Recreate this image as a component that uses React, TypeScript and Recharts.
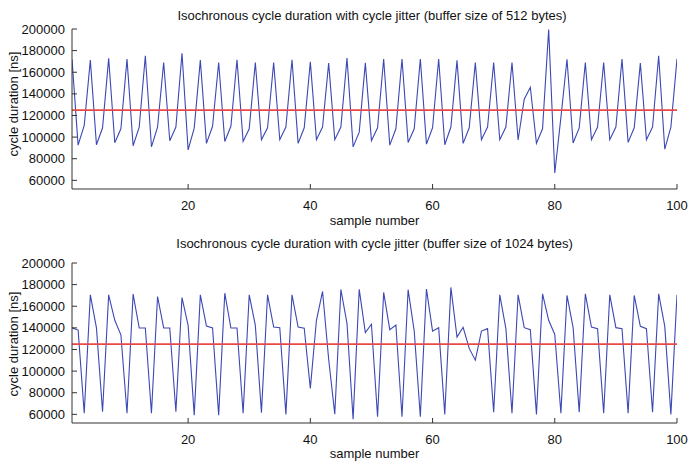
import { LineChart, Line, XAxis, YAxis, ReferenceLine } from 'recharts';

// cycle durations in ns, one value per sample (samples 1..100)
const jitter512 = [
  172000, 92600, 110800, 171200, 92900, 108600, 172800, 94800, 107700, 172200,
  92000, 109300, 175300, 91000, 109300, 169000, 96700, 109300, 177500, 88200,
  108300, 171200, 94200, 110000, 169000, 96000, 110000, 171500, 96000, 107700,
  169000, 97600, 108600, 169000, 97600, 109300, 171500, 94200, 108600, 169600,
  97600, 109300, 168400, 97600, 109300, 173100, 91000, 104600, 168700, 96700,
  108600, 172200, 92600, 107700, 172200, 95100, 107700, 172200, 93500, 108600,
  172200, 92900, 109300, 171000, 94200, 108600, 169000, 97600, 109300, 169000,
  97600, 109300, 169000, 97300, 135000, 146100, 94300, 107700, 199500, 66800,
  118000, 172000, 94500, 108500, 169000, 97600, 109300, 169000, 97600, 109300,
  172200, 95100, 108600, 168400, 97600, 109300, 175300, 88800, 109300, 172500,
];

const jitter1024 = [
  140000, 138000, 61000, 170500, 140000, 62400, 170500, 147000, 133600, 61000,
  171200, 139900, 139900, 61000, 169000, 139900, 139900, 62400, 168000, 142300,
  59300, 170500, 141700, 139900, 59300, 172100, 139900, 139900, 61000, 170600,
  142400, 61600, 170600, 140800, 140200, 60000, 170600, 140800, 139600, 84000,
  147000, 173700, 111000, 60200, 175500, 143900, 55500, 175600, 135600, 143300,
  57800, 172800, 138300, 142700, 57800, 175300, 137000, 57800, 175900, 137000,
  140200, 60000, 177400, 131400, 140500, 121000, 110100, 137000, 139300, 61900,
  170600, 139300, 61000, 170600, 140200, 138300, 60000, 171500, 147000, 133900,
  61000, 170000, 140200, 61900, 171500, 140800, 139300, 61000, 170600, 140200,
  139300, 61000, 170000, 141400, 139300, 61900, 171500, 141400, 60000, 170600,
];

const nominalCycle = 125000;
const xTicks = [20, 40, 60, 80, 100];
const yTicks = [60000, 80000, 100000, 120000, 140000, 160000, 180000, 200000];

const FONT = '"Liberation Sans", Arial, Helvetica, sans-serif';
const AXIS = '#333';
const tickStyle = { fill: '#111', fontSize: 13, fontFamily: FONT };
const blank = () => '';

function Panel({ values, top }: { values: number[]; top: number }) {
  const rows = values.map((v, i) => ({ sample: i + 1, duration: v }));
  return (
    <div style={{ position: 'absolute', left: 0, top }}>
      <LineChart width={690} height={232} data={rows} margin={{ top: 29, right: 13, bottom: 0, left: 0 }}>
        <XAxis
          dataKey="sample"
          type="number"
          domain={[1, 100]}
          ticks={xTicks}
          height={43}
          stroke={AXIS}
          tickSize={-5}
          tickMargin={17}
          tick={tickStyle}
          allowDataOverflow
        />
        <XAxis
          xAxisId="top"
          orientation="top"
          dataKey="sample"
          type="number"
          domain={[1, 100]}
          ticks={xTicks}
          height={0}
          stroke={AXIS}
          tickSize={-5}
          tickFormatter={blank}
          allowDataOverflow
        />
        <YAxis
          type="number"
          domain={[52000, 200000]}
          ticks={yTicks}
          width={72}
          stroke={AXIS}
          tickSize={-5}
          tickMargin={12}
          tick={tickStyle}
          allowDataOverflow
          interval={0}
        />
        <YAxis
          yAxisId="right"
          orientation="right"
          type="number"
          domain={[52000, 200000]}
          ticks={yTicks}
          width={0}
          stroke={AXIS}
          tickSize={-5}
          tickFormatter={blank}
          allowDataOverflow
        />
        <Line
          dataKey="duration"
          stroke="#3c48b4"
          strokeWidth={1.1}
          dot={false}
          activeDot={false}
          isAnimationActive={false}
        />
        <ReferenceLine y={nominalCycle} stroke="#e84848" strokeWidth={1.6} />
      </LineChart>
    </div>
  );
}

export default function App() {
  const txt = { fontFamily: FONT, fontSize: 13, fill: '#111' };
  return (
    <div style={{ position: 'absolute', left: 0, top: 0, width: 690, height: 464, background: '#fff' }}>
      <Panel values={jitter512} top={0} />
      <Panel values={jitter1024} top={234} />
      <svg width={690} height={464} style={{ position: 'absolute', left: 0, top: 0, pointerEvents: 'none' }}>
        <text x={372} y={20} textAnchor="middle" {...txt}>
          Isochronous cycle duration with cycle jitter (buffer size of 512 bytes)
        </text>
        <text x={374.5} y={225} textAnchor="middle" {...txt}>sample number</text>
        <text transform="translate(17.5,104) rotate(-90)" textAnchor="middle" {...txt}>
          cycle duration [ns]
        </text>
        <text x={374.5} y={247.5} textAnchor="middle" {...txt}>
          Isochronous cycle duration with cycle jitter (buffer size of 1024 bytes)
        </text>
        <text x={374.5} y={458} textAnchor="middle" {...txt}>sample number</text>
        <text transform="translate(17.5,344) rotate(-90)" textAnchor="middle" {...txt}>
          cycle duration [ns]
        </text>
      </svg>
    </div>
  );
}
